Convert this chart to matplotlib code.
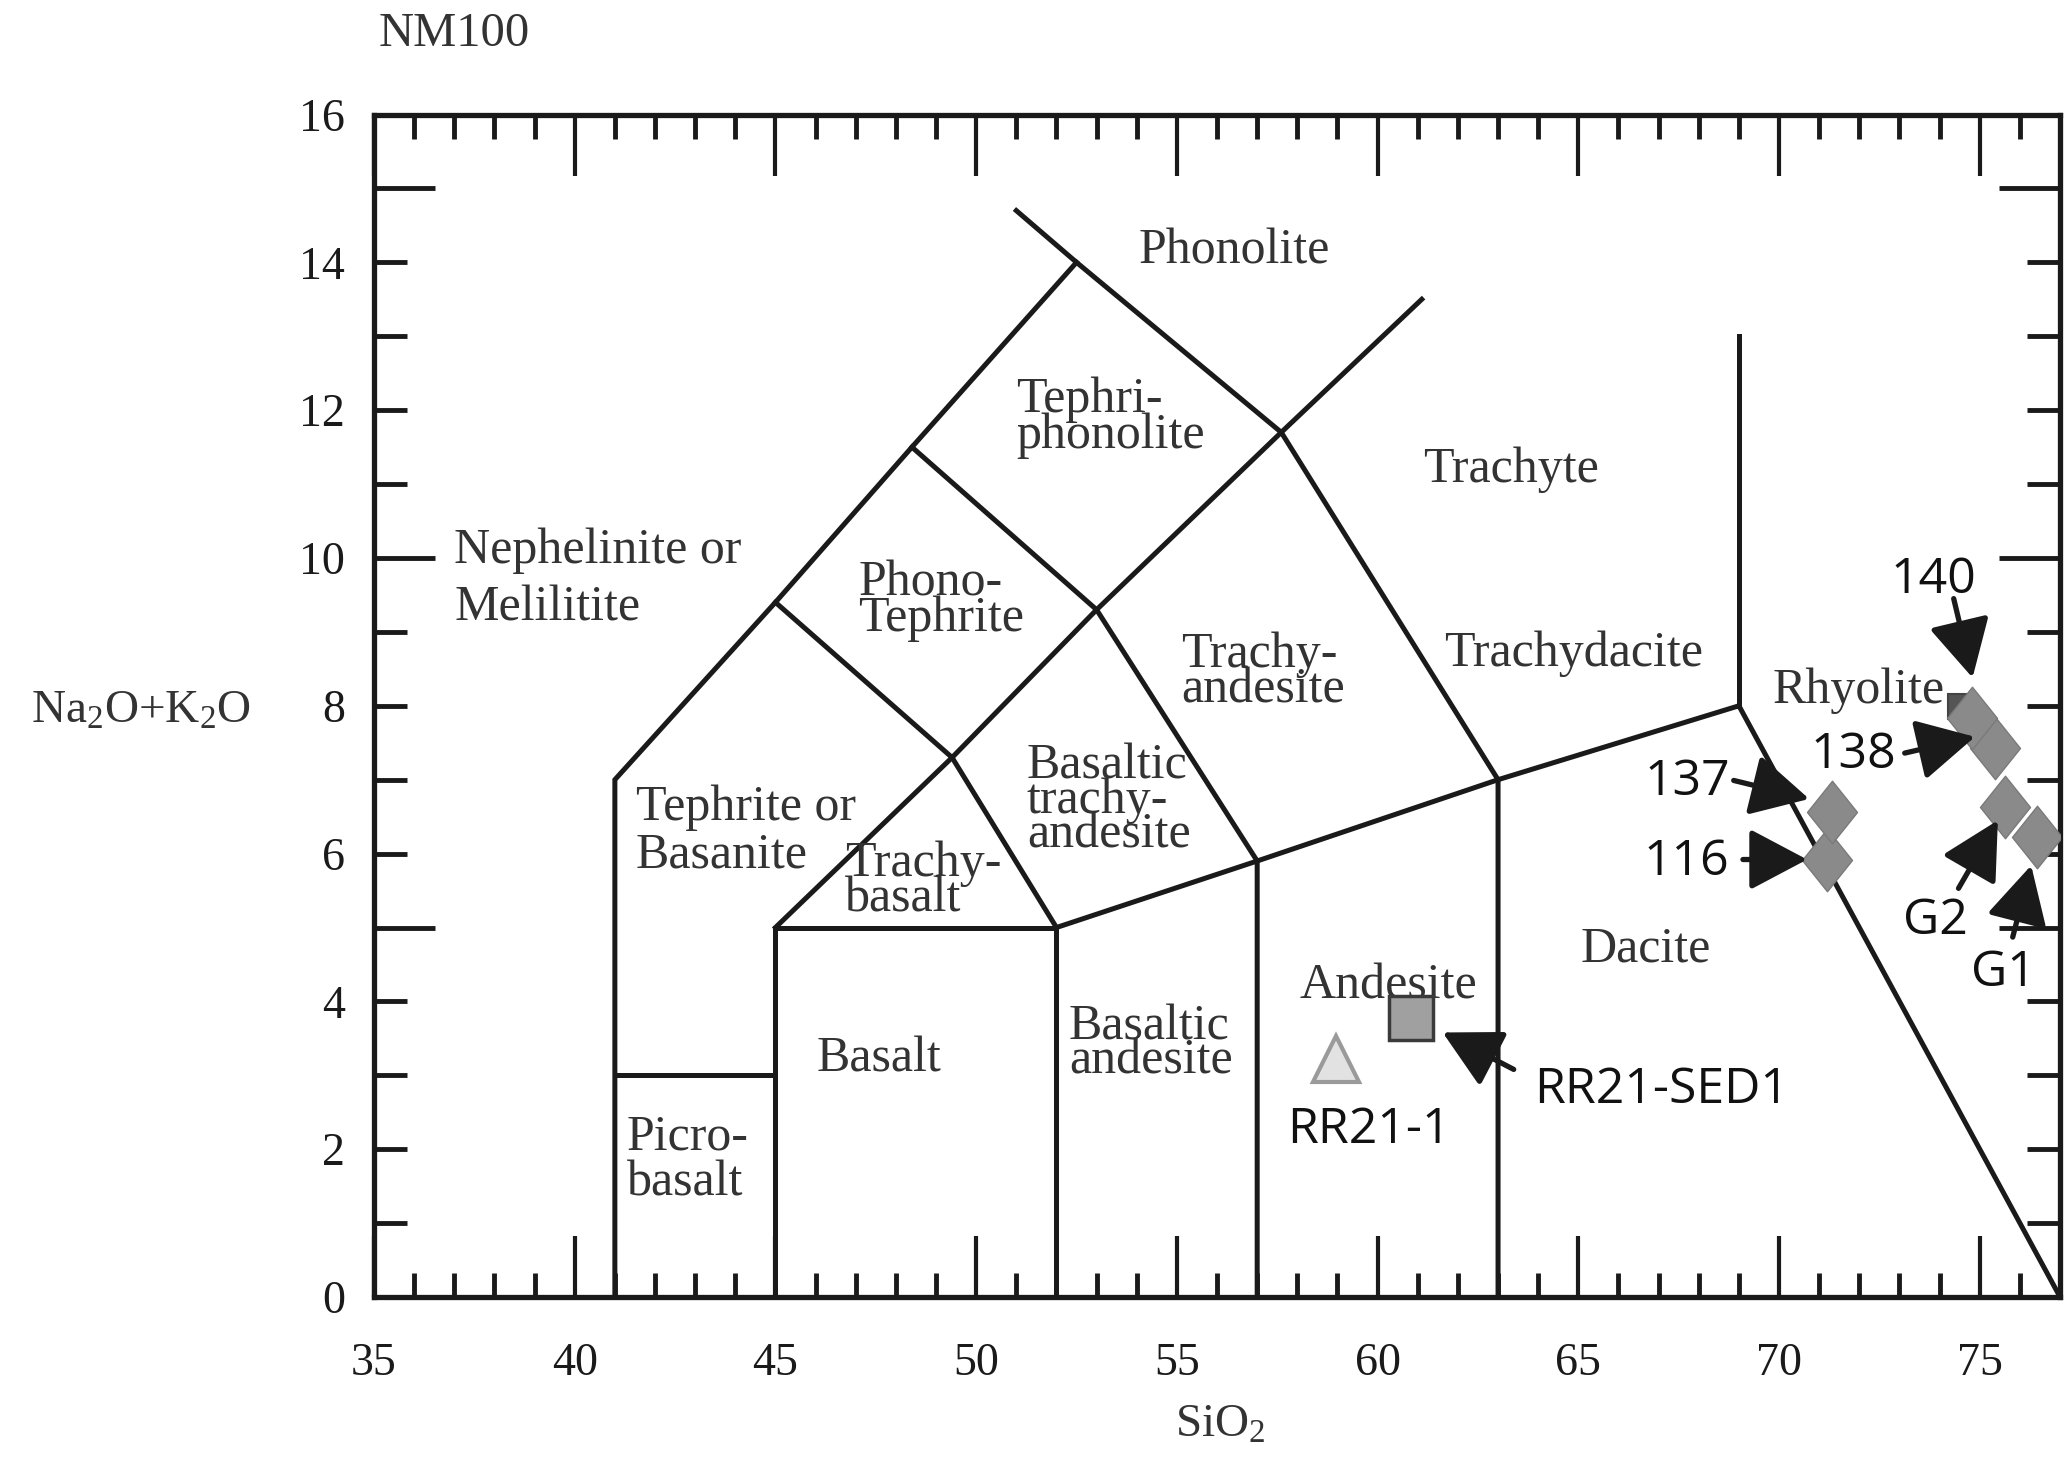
import numpy as np
import matplotlib
matplotlib.use("Agg")
from matplotlib import pyplot as plt
from matplotlib import rcParams
from matplotlib.path import Path

ink = "#1a1a1a"
label_grey = "#333333"

rcParams["font.family"] = ["Liberation Serif", "DejaVu Serif"]
rcParams["mathtext.fontset"] = "custom"
rcParams["mathtext.rm"] = "Liberation Serif"
rcParams["mathtext.it"] = "Liberation Serif:italic"
rcParams["text.color"] = label_grey

# TAS field boundaries (SiO2, Na2O+K2O)
boundaries = [
    [(41, 0), (41, 7), (45, 9.4), (48.4, 11.5), (52.5, 14)],
    [(41, 3), (45, 3)],
    [(45, 0), (45, 5), (52, 5), (52, 0)],
    [(45, 5), (49.4, 7.3), (53, 9.3), (57.6, 11.7), (61.1, 13.5)],
    [(45, 9.4), (49.4, 7.3), (52, 5), (57, 5.9), (63, 7), (69, 8), (77, 0)],
    [(48.4, 11.5), (53, 9.3), (57, 5.9), (57, 0)],
    [(51.0, 14.7), (52.5, 14), (57.6, 11.7), (63, 7), (63, 0)],
    [(69, 8), (69, 13)],
]

# field names: text, SiO2, alkali, alignment, line spacing
fields = [
    ("Phonolite", 56.44, 14.15, "center", 1.0),
    ("Tephri-\nphonolite", 51.0, 11.9, "left", 0.72),
    ("Trachyte", 63.33, 11.2, "center", 1.0),
    ("Nephelinite or\nMelilitite", 37.0, 9.71, "left", 1.3),
    ("Phono-\nTephrite", 47.07, 9.42, "left", 0.68),
    ("Trachy-\nandesite", 55.1, 8.45, "left", 0.7),
    ("Trachydacite", 64.87, 8.7, "center", 1.0),
    ("Rhyolite", 71.98, 8.2, "center", 1.0),
    ("Tephrite or\nBasanite", 41.52, 6.3, "left", 1.05),
    ("Basaltic\ntrachy-\nandesite", 51.26, 6.72, "left", 0.66),
    ("Trachy-\nbasalt", 46.74, 5.62, "left", 0.7),
    ("Dacite", 66.67, 4.7, "center", 1.0),
    ("Andesite", 60.28, 4.2, "center", 1.0),
    ("Basalt", 47.59, 3.22, "center", 1.0),
    ("Basaltic\nandesite", 52.31, 3.42, "left", 0.66),
    ("Picro-\nbasalt", 41.3, 1.85, "left", 0.98),
]

# samples
samples = ["116", "137", "138", "140", "G1", "G2"]
sample_sio2 = [71.2, 71.33, 75.39, 74.8, 76.42, 75.62]
sample_alkali = [5.92, 6.56, 7.43, 7.84, 6.22, 6.63]

extra_sio2 = [74.5]
extra_alkali = [8.0]

sed_name = "RR21-SED1"
sed_sio2 = [60.84]
sed_alkali = [3.78]

rock_name = "RR21-1"
rock_sio2 = [58.97]
rock_alkali = [3.22]

# label position, arrow tail, arrow tip
callouts = {
    "137": ((67.72, 6.97), (68.87, 6.99), (70.75, 6.74)),
    "116": ((67.69, 5.88), (69.10, 5.92), (70.70, 5.92)),
    "138": ((71.85, 7.33), (73.13, 7.36), (74.88, 7.58)),
    "140": ((73.85, 9.70), (74.35, 9.45), (74.82, 8.38)),
    "G2": ((73.89, 5.08), (74.47, 5.53), (75.45, 6.45)),
    "G1": ((75.59, 4.38), (75.82, 4.87), (76.28, 5.84)),
    sed_name: ((67.07, 2.80), (63.39, 3.08), (61.62, 3.58)),
}

fig = plt.figure(figsize=(20.64, 14.59), dpi=100)
ax = fig.add_axes([0.1812, 0.1110, 0.8169, 0.8105])
ax.set_xlim(35, 77)
ax.set_ylim(0, 16)

for line in boundaries:
    xs, ys = zip(*line)
    ax.plot(xs, ys, color=ink, lw=3.6, solid_joinstyle="miter", zorder=2)

for text, x, y, ha, ls in fields:
    ax.text(x, y, text, ha=ha, va="center", fontsize=36, linespacing=ls,
            color=label_grey, zorder=3)

diamond = Path([(0, 1), (0.8, 0), (0, -1), (-0.8, 0), (0, 1)],
               [Path.MOVETO, Path.LINETO, Path.LINETO, Path.LINETO, Path.CLOSEPOLY])

ax.plot(extra_sio2, extra_alkali, ls="none", marker="s", ms=18,
        mfc="#555555", mec="#444444", mew=1.5, zorder=4)
ax.plot(sample_sio2, sample_alkali, ls="none", marker=diamond, ms=45,
        mfc="#8a8a8a", mec="#7a7a7a", mew=1.0, zorder=5)
ax.plot(sed_sio2, sed_alkali, ls="none", marker="s", ms=31,
        mfc="#a0a0a0", mec="#3a3a3a", mew=2.5, zorder=5)
ax.plot(rock_sio2, rock_alkali, ls="none", marker="^", ms=33,
        mfc="#e2e2e2", mec="#9a9a9a", mew=3.0, zorder=5)

sans = ["Open Sans", "DejaVu Sans"]
for name, (lab, tail, tip) in callouts.items():
    ax.text(lab[0], lab[1], name, ha="center", va="center", fontsize=36,
            family=sans, color="#111111", zorder=6)
    ax.annotate("", xy=tip, xytext=tail,
                arrowprops=dict(arrowstyle="-|>,head_length=0.85,head_width=0.45",
                                mutation_scale=42, lw=3.8, color=ink,
                                shrinkA=0, shrinkB=0),
                zorder=6)
ax.text(59.79, 2.26, rock_name, ha="center", va="center", fontsize=36,
        family=sans, color="#111111", zorder=6)

# axes frame and ticks
for side in ax.spines.values():
    side.set_linewidth(3.8)
    side.set_color(ink)

ax.set_xticks(np.arange(35, 76, 5))
ax.set_xticks(np.arange(36, 77, 1), minor=True)
ax.set_yticks([5, 10, 15])
ax.set_yticks(np.arange(1, 16, 1), minor=True)
ax.tick_params(axis="x", which="major", direction="in", length=44, width=3,
               top=True, pad=33, labelsize=33, colors=ink)
ax.tick_params(axis="x", which="minor", direction="in", length=17, width=3.5,
               top=True)
ax.tick_params(axis="y", which="major", direction="in", length=44, width=3.5,
               right=True, labelleft=False)
ax.tick_params(axis="y", which="minor", direction="in", length=24, width=3.5,
               right=True)
ax.tick_params(which="both", color=ink)

secy = ax.secondary_yaxis("left")
secy.set_yticks(np.arange(0, 17, 2))
secy.tick_params(length=0, pad=21, labelsize=33, colors=ink)
secy.spines["left"].set_visible(False)

fig.text(0.0683, 0.5127, r"Na$_2$O+K$_2$O", ha="center", va="center",
         fontsize=34, color=label_grey)
fig.text(0.591, 0.0233, r"SiO$_2$", ha="center", va="center",
         fontsize=34, color=label_grey)
fig.text(0.220, 0.977, "NM100", ha="center", va="center",
         fontsize=35, color=label_grey)

fig.savefig("out.png", dpi=100, facecolor="white")
